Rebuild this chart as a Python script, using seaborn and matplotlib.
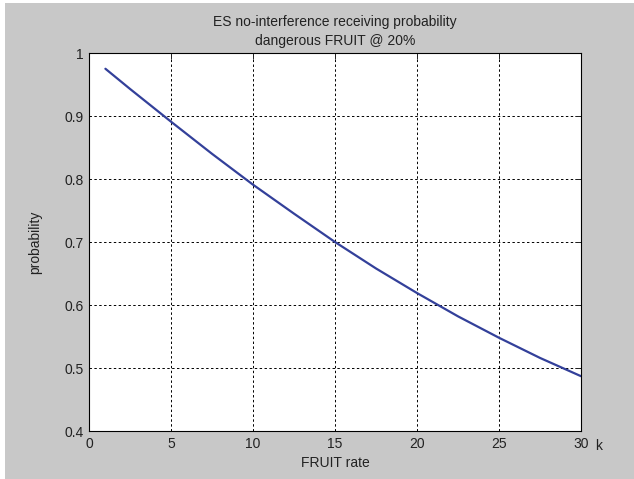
import numpy as np
import pandas as pd
import seaborn as sns
import matplotlib.pyplot as plt
from matplotlib.patches import Rectangle

# values
fruit_rate = [1, 2.5, 5, 7.5, 10, 12.5, 15, 17.5, 20, 22.5, 25, 27.5, 30]
probability = [0.975, 0.943, 0.891, 0.840, 0.791, 0.745, 0.700, 0.658, 0.619, 0.582, 0.548, 0.516, 0.487]

x_ticks = [0, 5, 10, 15, 20, 25, 30]
y_ticks = [0.4, 0.5, 0.6, 0.7, 0.8, 0.9, 1.0]
y_labels = ['0.4', '0.5', '0.6', '0.7', '0.8', '0.9', '1']

df = pd.DataFrame({'rate': fruit_rate, 'probability': probability})

sns.set_style('white')
plt.rcParams['font.family'] = ['Liberation Sans', 'DejaVu Sans']

fig = plt.figure(figsize=(6.34, 4.79), dpi=100, facecolor='white')
# grey MATLAB-style background with thin white border at top/left
fig.patches.append(Rectangle((5 / 634, 0), 1, 1 - 3 / 479, transform=fig.transFigure,
                             facecolor='#c8c8c8', edgecolor='none', zorder=-10))

ax = fig.add_axes([89 / 634, 1 - 431 / 479, (581 - 89) / 634, (431 - 53) / 479])
ax.set_facecolor('white')

sns.lineplot(data=df, x='rate', y='probability', color='#33409a', linewidth=1.6, ax=ax)

fs = 10
ax.set_xlim(0, 30)
ax.set_ylim(0.4, 1.0)
ax.set_xticks(x_ticks)
ax.set_yticks(y_ticks)
ax.set_yticklabels(y_labels)
ax.grid(True, color='black', linestyle=(0, (2.5, 2.5)), linewidth=0.7)
for s in ax.spines.values():
    s.set_color('black')
    s.set_linewidth(0.8)
ax.tick_params(direction='in', length=4, width=0.7, labelsize=fs, colors='#222222',
               top=True, right=True, pad=4)

ax.set_xlabel('FRUIT rate', fontsize=fs, color='#222222', labelpad=4)
ax.set_ylabel('probability', fontsize=fs, color='#222222', labelpad=16)
ax.set_title('ES no-interference receiving probability\ndangerous FRUIT @ 20%',
             fontsize=fs, color='#222222', pad=6, linespacing=1.4)
ax.text(1.035, -0.02, 'k', transform=ax.transAxes, fontsize=fs, color='#222222',
        ha='center', va='top')

fig.savefig('out.png', dpi=100, facecolor=fig.get_facecolor())
